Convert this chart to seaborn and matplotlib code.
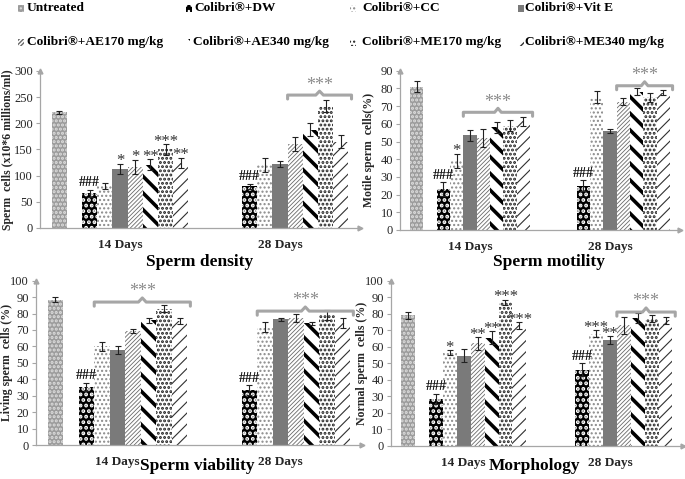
import numpy as np
import pandas as pd
import matplotlib
matplotlib.use("Agg")
import matplotlib.pyplot as plt
from matplotlib.patches import Rectangle
import seaborn as sns

sns.set_theme(style="white")
plt.rcParams['font.family'] = ['Liberation Serif', 'DejaVu Serif']

# ---------------- data ----------------
days = ["14 Days", "28 Days"]
groups = ["Untreated", "Colibri®+DW", "Colibri®+CC", "Colibri®+Vit E",
          "Colibri®+AE170 mg/kg", "Colibri®+AE340 mg/kg",
          "Colibri®+ME170 mg/kg", "Colibri®+ME340 mg/kg"]
hue_order = [groups[0], " "] + groups[1:]   # blank slot after Untreated

# Sperm density
dens_14 = [221, 66, 80, 113, 117, 121, 150, 124]
dens_14_err = [3, 7, 6, 10, 13, 10, 10, 10]
dens_28 = [80, 120, 122, 160, 188, 233, 165]
dens_28_err = [5, 13, 6, 13, 13, 12, 12]
dens_14_lab = ["", "###", "", "*", "*", "**", "***", "**"]
dens_28_lab = ["###", "", "", "", "", "", ""]

# Sperm motility
mot_14 = [81, 23, 39, 53.5, 52, 58, 59, 61.5]
mot_14_err = [3, 4, 4, 3, 5, 3, 3, 2.5]
mot_28 = [25, 75, 56, 72.5, 78, 75, 77.5]
mot_28_err = [3, 3.5, 1, 2, 2, 2.5, 1.5]
mot_14_lab = ["", "###", "*", "", "", "", "", ""]
mot_28_lab = ["###", "", "", "", "", "", ""]

# Sperm viability
via_14 = [88.5, 35.5, 60, 58, 69.5, 76, 83, 75.5]
via_14_err = [1.5, 2.5, 2.5, 2.5, 1.2, 1.5, 2, 2]
via_28 = [33.5, 72, 76.5, 77.5, 74, 79, 74]
via_28_err = [3, 3, 1, 2.5, 1, 3, 3]
via_14_lab = ["", "###", "", "", "", "", "", ""]
via_28_lab = ["###", "", "", "", "", "", ""]

# Morphology
mor_14 = [79, 28.5, 56.5, 54.5, 62, 65.5, 87, 73]
mor_14_err = [2, 3, 1.5, 4, 4, 4, 1.5, 2]
mor_28 = [46, 68, 64, 73, 77.5, 77, 76]
mor_28_err = [4, 2, 2.5, 5, 3, 2, 2]
mor_14_lab = ["", "###", "*", "", "**", "**", "***", "***"]
mor_28_lab = ["###", "***", "**", "", "", "", ""]

# brackets: (day, first group, last group, y level)
dens_br = [("28 Days", "Colibri®+AE170 mg/kg", "Colibri®+ME340 mg/kg", 254)]
mot_br = [("14 Days", "Colibri®+Vit E", "Colibri®+ME340 mg/kg", 66.5),
          ("28 Days", "Colibri®+AE170 mg/kg", "Colibri®+ME340 mg/kg", 81.5)]
via_br = [("14 Days", "Colibri®+CC", "Colibri®+ME340 mg/kg", 87),
          ("28 Days", "Colibri®+CC", "Colibri®+ME340 mg/kg", 81.5)]
mor_br = [("28 Days", "Colibri®+AE170 mg/kg", "Colibri®+ME340 mg/kg", 81)]

# ---------------- styles ----------------
# group -> (face, hatch, hatch colour, hatch lw)
styles = {
    "Untreated": ("#9c9c9c", "....", "#dedede", 1.5),
    "Colibri®+DW": ("black", "...", "white", 1.9),
    "Colibri®+CC": ("white", "....", "#8a8a8a", 1.0),
    "Colibri®+Vit E": ("#7a7a7a", None, "#7a7a7a", 0.5),
    "Colibri®+AE170 mg/kg": ("white", "////////", "#6a6a6a", 0.6),
    "Colibri®+AE340 mg/kg": ("white", "\\\\", "black", 2.6),
    "Colibri®+ME170 mg/kg": ("white", "....", "#202020", 1.4),
    "Colibri®+ME340 mg/kg": ("white", "///", "#303030", 0.8),
}
palette = {g: styles[g][0] for g in groups}
palette[" "] = "white"


def style_patch(p, g):
    face, hatch, hcol, hlw = styles[g]
    p.set_facecolor(face)
    p.set_edgecolor(hcol)
    p.set_linewidth(0)
    if hatch:
        p.set_hatch(hatch)
        if hasattr(p, "set_hatch_linewidth"):
            p.set_hatch_linewidth(hlw)
        else:
            p._hatch_linewidth = hlw


W = 685 / 100
H = 479 / 100
fig = plt.figure(figsize=(W, H), dpi=100)

GW = 0.856
SLOT = GW / len(hue_order)
GRAY = "#a6a6a6"


def panel(rect, v14, e14, v28, e28, l14, l28, brackets, ylim, yticks,
          ylabel, ylab_x):
    ax = fig.add_axes(rect)
    rows = []
    for g, v, e, l in zip(groups, v14, e14, l14):
        rows.append(dict(day=days[0], group=g, value=v, err=e, lab=l))
    for g, v, e, l in zip(groups[1:], v28, e28, l28):
        rows.append(dict(day=days[1], group=g, value=v, err=e, lab=l))
    df = pd.DataFrame(rows)
    sns.barplot(data=df, x="day", y="value", hue="group", order=days,
                hue_order=hue_order, palette=palette, width=GW, gap=0,
                errorbar=None, legend=False, saturation=1, ax=ax)
    info = {}
    for p in ax.patches:
        h = p.get_height()
        if not np.isfinite(h) or h == 0:
            continue
        xc = p.get_x() + p.get_width() / 2
        di = int(round(xc))
        slot = int(round((xc - di + GW / 2 - SLOT / 2) / SLOT))
        g = hue_order[slot]
        info[(days[di], g)] = p
        style_patch(p, g)
    yr = ylim[1] - ylim[0]
    for _, r in df.iterrows():
        p = info.get((r.day, r.group))
        if p is None:
            continue
        xc = p.get_x() + p.get_width() / 2
        ax.errorbar(xc, r.value, yerr=r.err, fmt="none", ecolor="#222222",
                    elinewidth=0.8, capsize=2.2, capthick=0.8, zorder=5)
        if r.lab:
            if r.lab.startswith("#"):
                ax.text(xc, r.value + r.err + yr * 0.003, r.lab, ha="center",
                        va="bottom", fontsize=10, fontweight="bold",
                        color="#111111", zorder=6)
            else:
                ax.text(xc, r.value + r.err - yr * 0.035, r.lab, ha="center",
                        va="bottom", fontsize=12, color="#333333", zorder=6)
    for d, g0, g1, yb in brackets:
        p0 = info[(d, g0)]
        p1 = info[(d, g1)]
        x0 = p0.get_x()
        x1 = p1.get_x() + p1.get_width() + SLOT * 0.2
        xm = (x0 + x1) / 2
        dd = yr * 0.025
        s = SLOT * 0.25
        ax.plot([x0, x0, xm - s, xm, xm + s, x1, x1],
                [yb - dd, yb, yb, yb + dd, yb, yb, yb - dd],
                color=GRAY, lw=2.2, solid_joinstyle="round",
                solid_capstyle="round", zorder=6, clip_on=False)
        ax.text(xm, yb + yr * 0.01, "***", ha="center", va="bottom",
                fontsize=13, color="#8c8c8c", zorder=6)
    ax.set_xlim(-0.5, 1.5)
    ax.set_ylim(*ylim)
    ax.set_yticks(yticks)
    ax.set_yticklabels([str(t) for t in yticks], fontsize=9)
    ax.set_xticks([0, 1])
    ax.set_xticklabels(days, fontsize=9.5, fontweight="bold")
    ax.set_xticks([-0.5, 0.5, 1.5], minor=True)
    ax.tick_params(axis="x", which="major", length=0, pad=8)
    ax.tick_params(axis="x", which="minor", length=4, color=GRAY, width=0.8,
                   direction="out")
    ax.tick_params(axis="y", length=3, color=GRAY, width=0.8, pad=2,
                   direction="out", left=True)
    ax.set_xlabel("")
    ax.set_ylabel(ylabel, fontsize=8.5, fontweight="bold", va="center")
    ax.yaxis.set_label_coords(ylab_x, 0.5)
    for sp in ["top", "right"]:
        ax.spines[sp].set_visible(False)
    for sp in ["left", "bottom"]:
        ax.spines[sp].set_color(GRAY)
        ax.spines[sp].set_linewidth(0.9)
    ax.plot([0], [1], marker="^", ms=3.5, color=GRAY,
            transform=ax.transAxes, clip_on=False)
    ax.plot([1], [0], marker=">", ms=3.5, color=GRAY,
            transform=ax.transAxes, clip_on=False)
    return ax


def rect(left_px, right_px, bottom_px, top_px):
    return [left_px / 685, 1 - bottom_px / 479, (right_px - left_px) / 685,
            (bottom_px - top_px) / 479]


panel(rect(40, 360, 228, 71), dens_14, dens_14_err, dens_28, dens_28_err,
      dens_14_lab, dens_28_lab, dens_br, (0, 300), list(range(0, 301, 50)),
      "Sperm  cells (x10*6 millions/ml)", (8.5 - 40) / 320)
panel(rect(400, 680, 230, 70.7), mot_14, mot_14_err, mot_28, mot_28_err,
      mot_14_lab, mot_28_lab, mot_br, (0, 90), list(range(0, 91, 10)),
      "Motile sperm  cells(%)", (369 - 400) / 280)
panel(rect(36, 362, 445, 280.7), via_14, via_14_err, via_28, via_28_err,
      via_14_lab, via_28_lab, via_br, (0, 100), list(range(0, 101, 10)),
      "Living sperm  cells (%)", (7.5 - 36) / 326)
panel(rect(390.7, 683, 445.7, 280.7), mor_14, mor_14_err, mor_28, mor_28_err,
      mor_14_lab, mor_28_lab, mor_br, (0, 100), list(range(0, 101, 10)),
      "Normal sperm  cells (%)", (362.5 - 390.7) / 292.3)

# panel titles
for txt, x, y in [("Sperm density", 200, 262), ("Sperm motility", 549, 262),
                  ("Sperm viability", 197, 466), ("Morphology", 535, 466)]:
    fig.text(x / 685, 1 - y / 479, txt, ha="center", va="center",
             fontsize=12.5, fontweight="bold", color="black")

# legend placed entry by entry (row-major, 4 columns)
leg_x = [(18, 27), (186, 194), (350, 362), (518, 525),
         (18, 27), (184, 193), (350, 362), (518, 525)]
leg_y = [8, 8, 8, 8, 42, 42, 42, 42]
for g, (mx, tx), ly in zip(groups, leg_x, leg_y):
    face, hatch, hcol, hlw = styles[g]
    r = Rectangle((mx / 685, 1 - (ly + 3.5) / 479), 6 / 685, 7 / 479,
                  transform=fig.transFigure, facecolor=face, edgecolor=hcol,
                  lw=0, hatch=hatch)
    fig.add_artist(r)
    fig.text(tx / 685, 1 - ly / 479, g, ha="left", va="center",
             fontsize=9.6, fontweight="bold", color="black")

fig.savefig("out.png", dpi=100)
